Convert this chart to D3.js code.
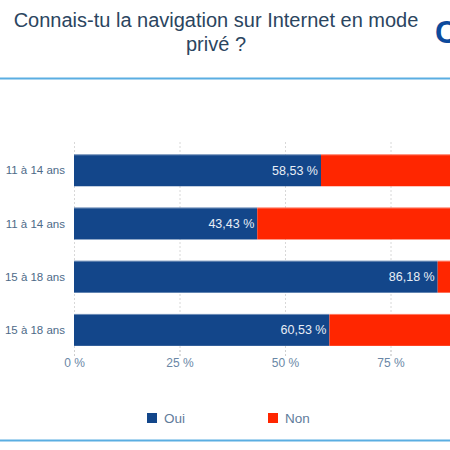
<!DOCTYPE html>
<html>
<head>
<meta charset="utf-8">
<script src="https://cdn.jsdelivr.net/npm/d3@7"></script>
<style>
  body { margin: 0; background: #fff; }
  svg { font-family: "Liberation Sans", Arial, sans-serif; display: block; }
</style>
</head>
<body>
<div class="chart"></div>
<script>
var categories = ['11 à 14 ans', '11 à 14 ans', '15 à 18 ans', '15 à 18 ans']
var oui = [58.53, 43.43, 86.18, 60.53]
var non = [41.47, 56.57, 13.82, 39.47]
var ticks = [0, 25, 50, 75]
var series = ['Oui', 'Non']
var colors = ['#13468a', '#ff2600']

var svg = d3.select('.chart').append('svg').attr('width', 450).attr('height', 450)

// title
var title = svg.append('text').attr('text-anchor', 'middle').attr('fill', '#2b4560').style('font-size', '20px')
title.append('tspan').attr('x', 216).attr('y', 27).text('Connais-tu la navigation sur Internet en mode')
title.append('tspan').attr('x', 216).attr('y', 51).text('privé ?')

// logo fragment, cut by the right edge like the original
svg.append('text').attr('x', 435).attr('y', 43).attr('fill', '#0d4a9c')
   .style('font-size', '31px').style('font-weight', 'bold').text('C')

svg.append('line').attr('x1', 0).attr('x2', 450).attr('y1', 78.5).attr('y2', 78.5)
   .attr('stroke', '#5aaee2').attr('stroke-width', 2)
svg.append('line').attr('x1', 0).attr('x2', 450).attr('y1', 440.5).attr('y2', 440.5)
   .attr('stroke', '#5aaee2').attr('stroke-width', 2)

var x = d3.scaleLinear().domain([0, 100]).range([74, 496])
var y = d3.scaleBand().domain(d3.range(categories.length)).range([143.7, 356.5])
          .paddingInner(0.4).paddingOuter(0.2)

// grid
svg.append('g').selectAll('line').data(ticks).enter().append('line')
   .attr('x1', function(d) { return x(d) + 0.5 }).attr('x2', function(d) { return x(d) + 0.5 })
   .attr('y1', 142).attr('y2', 358)
   .attr('stroke', '#d8d8d8').attr('stroke-dasharray', '2,2')

// bars
var rows = svg.append('g').selectAll('g').data(categories).enter().append('g')
rows.append('rect')
    .attr('x', x(0)).attr('y', function(d, i) { return y(i) })
    .attr('width', function(d, i) { return x(oui[i]) - x(0) })
    .attr('height', y.bandwidth()).attr('fill', colors[0])
rows.append('rect')
    .attr('x', function(d, i) { return x(oui[i]) }).attr('y', function(d, i) { return y(i) })
    .attr('width', function(d, i) { return x(oui[i] + non[i]) - x(oui[i]) })
    .attr('height', y.bandwidth()).attr('fill', colors[1])
rows.append('line')
    .attr('x1', x(0)).attr('x2', 450)
    .attr('y1', function(d, i) { return y(i) + 0.5 }).attr('y2', function(d, i) { return y(i) + 0.5 })
    .attr('stroke', '#ffffff').attr('stroke-opacity', 0.4)
rows.append('text')
    .attr('x', function(d, i) { return x(oui[i]) - 3 })
    .attr('y', function(d, i) { return y(i) + y.bandwidth() / 2 + 4.5 })
    .attr('text-anchor', 'end').attr('fill', '#e8eef6').style('font-size', '12.5px')
    .text(function(d, i) { return d3.format('.2f')(oui[i]).replace('.', ',') + ' %' })

// category labels
svg.append('g').selectAll('text').data(categories).enter().append('text')
   .attr('x', 65).attr('y', function(d, i) { return y(i) + y.bandwidth() / 2 + 4 })
   .attr('text-anchor', 'end').attr('fill', '#4d6a88').style('font-size', '11.5px')
   .text(function(d) { return d })

// x axis
var axis = svg.append('g').attr('transform', 'translate(0,350)')
  .call(d3.axisBottom(x).tickValues(ticks).tickSize(7).tickFormat(function(d) { return d + ' %' }))
axis.select('.domain').remove()
axis.selectAll('.tick line').attr('stroke', '#cfcfcf').attr('stroke-dasharray', '2,2')
axis.selectAll('.tick text').attr('fill', '#6a87a6').attr('dy', '0.1em')
    .style('font-size', '12px').style('font-family', '"Liberation Sans", Arial, sans-serif')
    .attr('y', 16)

// legend
var legend = svg.append('g').selectAll('g').data(series).enter().append('g')
   .attr('transform', function(d, i) { return 'translate(' + (147 + i * 121) + ',413)' })
legend.append('rect').attr('width', 10).attr('height', 10).attr('fill', function(d, i) { return colors[i] })
legend.append('text').attr('x', 17).attr('y', 10).attr('fill', '#5f7c9b').style('font-size', '13.5px')
   .text(function(d) { return d })
</script>
</body>
</html>
